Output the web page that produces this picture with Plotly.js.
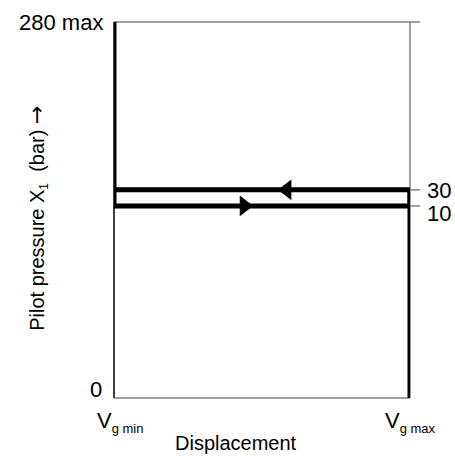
<!DOCTYPE html>
<html>
<head>
<meta charset="utf-8">
<script src="https://cdn.plot.ly/plotly-3.0.1.min.js"></script>
<style>html,body{margin:0;padding:0;background:#fff;}</style>
</head>
<body>
<div id="chart" style="width:455px;height:456px;"></div>
<script>
// Displacement axis (schematic): Vg min .. Vg max
const displacementPos = [0, 1];
const displacementLabels = ['V<sub><span style="font-size:13px">g min</span></sub>', 'V<sub><span style="font-size:13px">g max</span></sub>'];
// Pilot pressure axis (schematic positions of the labelled levels)
const pressurePos = [0, 143, 155, 280];
const pressureLabels = ['0', '10', '30', '280 max'];
// Arrow positions along the hysteresis lines (fraction of displacement)
const arrowDown = 0.44;  // on the 10 bar line, pointing right
const arrowUp = 0.584;   // on the 30 bar line, pointing left

const xMin = displacementPos[0], xMax = displacementPos[1];
const p0 = pressurePos[0], p10 = pressurePos[1], p30 = pressurePos[2], pMax = pressurePos[3];

const black = '#000000';
const gray = '#808080';
const font = '"Liberation Sans", Arial, Helvetica, sans-serif';

const traces = [
  {
    x: [xMin, xMin, xMax, xMax, xMin, xMin],
    y: [pMax, p10, p10, p30, p30, p10],
    mode: 'lines', line: {color: black, width: 5},
    cliponaxis: false, hoverinfo: 'skip', showlegend: false
  },
  {
    x: [xMax, xMax],
    y: [p30, p0],
    mode: 'lines', line: {color: black, width: 5},
    cliponaxis: false, hoverinfo: 'skip', showlegend: false
  },
  {
    x: [arrowUp], y: [p30], mode: 'markers',
    marker: {symbol: 'triangle-left', size: 18, color: black},
    cliponaxis: false, hoverinfo: 'skip', showlegend: false
  },
  {
    x: [arrowDown], y: [p10], mode: 'markers',
    marker: {symbol: 'triangle-right', size: 18, color: black},
    cliponaxis: false, hoverinfo: 'skip', showlegend: false
  }
];

const tickExt = 10 / 296;
const shapes = [
  {type: 'line', xref: 'paper', yref: 'paper', x0: 0, x1: 1 + tickExt, y0: 1, y1: 1, line: {color: gray, width: 1.5}, layer: 'below'},
  {type: 'line', xref: 'paper', yref: 'paper', x0: 1, x1: 1, y0: 0, y1: 1, line: {color: gray, width: 1.5}, layer: 'below'},
  {type: 'line', xref: 'paper', yref: 'paper', x0: 0, x1: 1, y0: 0, y1: 0, line: {color: gray, width: 1.5}, layer: 'below'},
  {type: 'line', xref: 'paper', yref: 'paper', x0: 0, x1: 0, y0: 0, y1: 1, line: {color: black, width: 1.5}, layer: 'below'},
  {type: 'line', xref: 'paper', yref: 'y', x0: 1, x1: 1 + tickExt, y0: p10, y1: p10, line: {color: gray, width: 1.5}, layer: 'below'},
  {type: 'line', xref: 'paper', yref: 'y', x0: 1, x1: 1 + tickExt, y0: p30, y1: p30, line: {color: gray, width: 1.5}, layer: 'below'}
];

const tf = {family: font, size: 22, color: black};
const annotations = [
  {text: pressureLabels[3], xref: 'paper', x: 0, xanchor: 'right', xshift: -9, yref: 'y', y: pMax, yanchor: 'middle', showarrow: false, font: tf},
  {text: pressureLabels[0], xref: 'paper', x: 0, xanchor: 'right', xshift: -10, yref: 'y', y: p0, yanchor: 'middle', yshift: 9, showarrow: false, font: tf},
  {text: pressureLabels[2], xref: 'paper', x: 1, xanchor: 'left', xshift: 15, yref: 'y', y: p30, yanchor: 'bottom', yshift: -15, showarrow: false, font: tf},
  {text: pressureLabels[1], xref: 'paper', x: 1, xanchor: 'left', xshift: 15, yref: 'y', y: p10, yanchor: 'top', yshift: 7, showarrow: false, font: tf},
  {text: displacementLabels[0], xref: 'x', x: xMin, xanchor: 'left', xshift: -19, yref: 'paper', y: 0, yanchor: 'top', yshift: -8, showarrow: false, font: tf},
  {text: displacementLabels[1], xref: 'x', x: xMax, xanchor: 'left', xshift: -27, yref: 'paper', y: 0, yanchor: 'top', yshift: -8, showarrow: false, font: tf},
  {text: 'Displacement', xref: 'paper', x: 0.412, xanchor: 'center', yref: 'paper', y: 0, yanchor: 'middle', yshift: -45, showarrow: false, font: {family: font, size: 20, color: black}},
  {text: 'Pilot pressure X<sub><span style="font-size:12px">1</span></sub>  (bar) <span style="font-family:\'DejaVu Sans\';font-size:22px">\u2192</span>', xref: 'paper', x: -0.257, xanchor: 'center', yref: 'paper', y: 0.479, yanchor: 'middle', textangle: -90, showarrow: false, font: {family: font, size: 20, color: black}}
];

const layout = {
  width: 455, height: 456,
  margin: {l: 114, r: 45, t: 22, b: 58, pad: 0},
  paper_bgcolor: '#ffffff', plot_bgcolor: '#ffffff',
  showlegend: false,
  xaxis: {range: [xMin, xMax], showgrid: false, zeroline: false, showticklabels: false, showline: false, ticks: '', fixedrange: true},
  yaxis: {range: [p0, pMax], showgrid: false, zeroline: false, showticklabels: false, showline: false, ticks: '', fixedrange: true},
  shapes: shapes,
  annotations: annotations
};

Plotly.newPlot('chart', traces, layout, {staticPlot: true, displayModeBar: false});
</script>
</body>
</html>
